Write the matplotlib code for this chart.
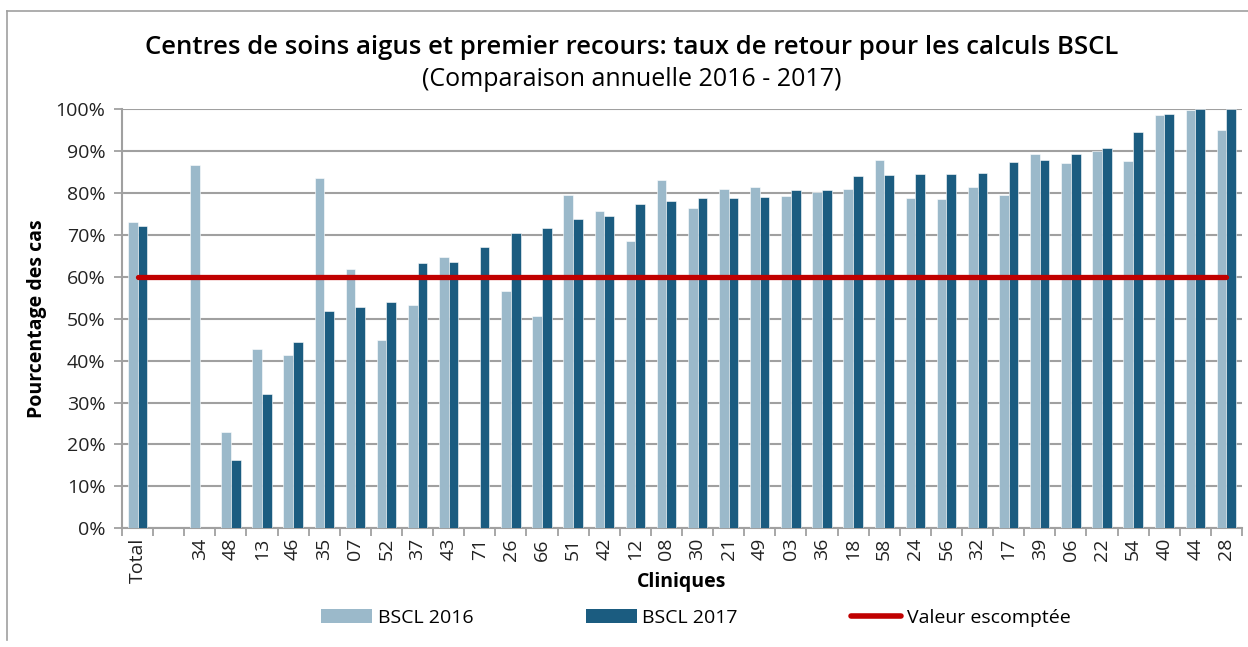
import matplotlib
matplotlib.use("Agg")
import matplotlib.pyplot as plt
import numpy as np
from matplotlib.patches import Patch
from matplotlib.lines import Line2D

categories = ["Total", "", "34", "48", "13", "46", "35", "07", "52", "37", "43", "71",
              "26", "66", "51", "42", "12", "08", "30", "21", "49", "03", "36", "18",
              "58", "24", "56", "32", "17", "39", "06", "22", "54", "40", "44", "28"]
bscl_2016 = [73.0, None, 86.6, 22.9, 42.7, 41.4, 83.7, 61.8, 45.0, 53.3, 64.7, None,
             56.6, 50.7, 79.6, 75.7, 68.5, 83.2, 76.4, 80.9, 81.5, 79.2, 80.3, 81.0,
             88.0, 78.8, 78.7, 81.5, 79.5, 89.4, 87.3, 90.1, 87.7, 98.7, 99.8, 95.0]
bscl_2017 = [72.1, None, None, 16.3, 32.0, 44.5, 51.9, 52.7, 53.9, 63.2, 63.6, 67.1,
             70.5, 71.7, 73.9, 74.5, 77.5, 78.1, 78.8, 78.8, 79.1, 80.7, 80.7, 84.2,
             84.4, 84.5, 84.6, 84.7, 87.4, 87.8, 89.3, 90.8, 94.5, 98.8, 100.0, 100.0]
expected_value = 60.0
y_ticks = [0, 10, 20, 30, 40, 50, 60, 70, 80, 90, 100]

c16 = "#9BB9CA"
c17 = "#1B5C80"
cred = "#C00000"
grid_c = "#A0A0A0"

plt.rcParams['font.family'] = ['Open Sans', 'DejaVu Sans']

fig = plt.figure(figsize=(12.48, 6.47), dpi=100)
ax = fig.add_axes([122/1248, (647-528.3)/647, (1242-122)/1248, (528.3-109.3)/647])

x = np.arange(len(categories))
w = 0.31
v16 = np.array([np.nan if v is None else v for v in bscl_2016])
v17 = np.array([np.nan if v is None else v for v in bscl_2017])
ax.bar(x - w/2, v16, width=w, color=c16, edgecolor="white", linewidth=0.4, zorder=3)
ax.bar(x + w/2, v17, width=w, color=c17, edgecolor="white", linewidth=0.4, zorder=3)
ax.plot([x[0], x[-1]], [expected_value, expected_value], color=cred, lw=3.8,
        solid_capstyle="round", zorder=4)

ax.set_xlim(-0.5, len(categories) - 0.5)
ax.set_ylim(0, 100)
ax.set_yticks(y_ticks)
ax.set_yticklabels([f"{t}%" for t in y_ticks], fontsize=14, color="#222222")
ax.yaxis.grid(True, color=grid_c, lw=1.5, zorder=0)
ax.set_axisbelow(True)

ax.set_xticks(x)
ax.set_xticklabels(categories, rotation=90, fontsize=14, color="#222222")
ax.set_xticks(np.arange(-0.5, len(categories), 1), minor=True)
ax.tick_params(axis="x", which="major", length=0, pad=7)
ax.tick_params(axis="x", which="minor", length=6, width=1.3, color=grid_c, direction="out")
ax.tick_params(axis="y", length=6, width=1.3, color=grid_c, pad=6)

for s in ["top", "right"]:
    ax.spines[s].set_visible(False)
for s in ["left", "bottom"]:
    ax.spines[s].set_color(grid_c)
    ax.spines[s].set_linewidth(1.5)

ax.set_ylabel("Pourcentage des cas", fontsize=14, fontweight="bold", labelpad=6)
ax.set_xlabel("Cliniques", fontsize=14, fontweight="bold", labelpad=-8)

fig.text(632/1248, 1 - 47/647, "Centres de soins aigus et premier recours: taux de retour pour les calculs BSCL",
         ha="center", va="center", fontsize=18.5, fontweight="semibold")
fig.text(632/1248, 1 - 80/647, "(Comparaison annuelle 2016 - 2017)", ha="center", va="center",
         fontsize=18)

handles = [Patch(facecolor=c16), Patch(facecolor=c17),
           Line2D([0], [0], color=cred, lw=4, solid_capstyle="round")]
labels = ["BSCL 2016", "BSCL 2017", "Valeur escomptée"]
fig.legend(handles, labels, loc="center", bbox_to_anchor=(696/1248, 1 - 618/647), ncol=3,
           frameon=False, fontsize=14, handlelength=2.6, handleheight=0.75,
           columnspacing=5.8, handletextpad=0.3)

# outer frame
fig.add_artist(Line2D([7/1248, 7/1248], [1 - 640/647, 1 - 11/647], color="#A0A0A0", lw=1.2,
                      transform=fig.transFigure))
fig.add_artist(Line2D([7/1248, 1], [1 - 11/647, 1 - 11/647], color="#A0A0A0", lw=1.2,
                      transform=fig.transFigure))

fig.savefig("out.png", dpi=100)
